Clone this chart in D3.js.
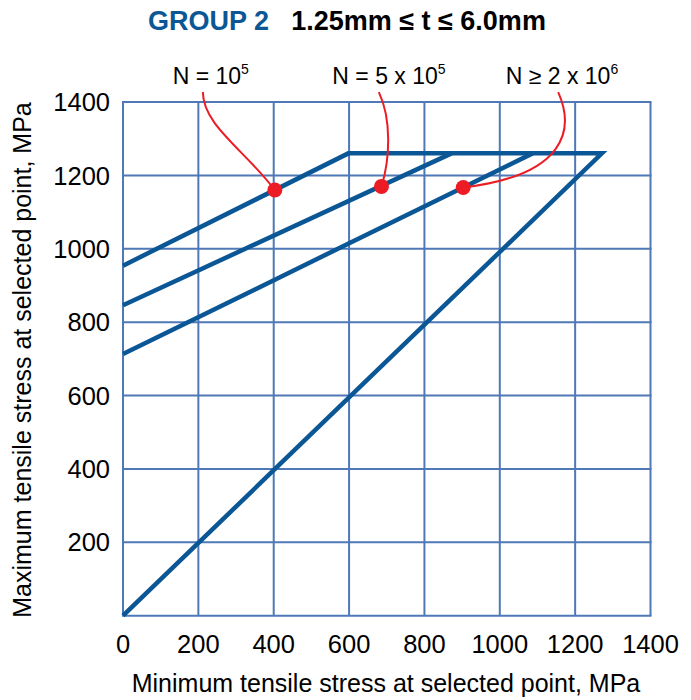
<!DOCTYPE html>
<html>
<head>
<meta charset="utf-8">
<script src="https://cdn.jsdelivr.net/npm/d3@7"></script>
<style>
  body { margin: 0; background: #fff; }
  text { font-family: "Liberation Sans", Arial, sans-serif; }
</style>
</head>
<body>
<div id="wrapper"></div>
<script>
// tick values on both axes
const xTicks = [0, 200, 400, 600, 800, 1000, 1200, 1400];
const yTicks = [200, 400, 600, 800, 1000, 1200, 1400];
const gridValues = [0, 200, 400, 600, 800, 1000, 1200, 1400];

// envelope: N = 10^5 line, flat top, then 45 deg line back to origin
const envelope = [[0, 954], [598, 1260], [1271, 1260], [0, 0]];
// the other two fatigue lines
const line5e5 = [[0, 846], [872, 1260]];
const line2e6 = [[0, 713], [1087, 1260]];

// selected points and the red leader curves (start, ctrl1, ctrl2 in data units)
const labels = ["N = 10", "N = 5 x 10", "N \u2265 2 x 10"];
const labelExp = ["5", "5", "6"];
const labelX = [233, 706, 1165];
const dots = [[403, 1160], [686, 1170], [903, 1167]];
const leaders = [
  [[212, 1427], [212, 1337], [323, 1269]],
  [[679, 1427], [714, 1351], [708, 1242]],
  [[1155, 1427], [1200, 1323], [1173, 1200]]
];

var dimension = {
  width: 691,
  height: 700,
  margin: { top: 102, right: 40, bottom: 84, left: 123 }
};
dimension.boundedWidth = 650.5 - dimension.margin.left;
dimension.boundedHeight = 615.7 - dimension.margin.top;

const blue = "#0b5796";
const gridColor = "#4e78b6";
const red = "#ec1c24";

const svg = d3.select("#wrapper")
  .append("svg")
  .attr("width", dimension.width)
  .attr("height", dimension.height);

const x = d3.scaleLinear().domain([0, 1400]).range([dimension.margin.left, 650.5]);
const y = d3.scaleLinear().domain([0, 1400]).range([615.7, dimension.margin.top]);

// title
const title = svg.append("text")
  .attr("x", 347)
  .attr("y", 30)
  .attr("text-anchor", "middle")
  .style("font-weight", "bold")
  .style("font-size", "27px");
title.append("tspan").attr("fill", blue).text("GROUP 2");
title.append("tspan").attr("fill", "#000").attr("dx", 22).text("1.25mm \u2264 t \u2264 6.0mm");

// grid
const grid = svg.append("g");
grid.selectAll(".vx")
  .data(gridValues)
  .enter()
  .append("line")
  .attr("x1", d => x(d)).attr("x2", d => x(d))
  .attr("y1", y(0)).attr("y2", y(1400))
  .attr("stroke", gridColor).attr("stroke-width", 2);
grid.selectAll(".hy")
  .data(gridValues)
  .enter()
  .append("line")
  .attr("y1", d => y(d)).attr("y2", d => y(d))
  .attr("x1", x(0) - 1).attr("x2", x(1400) + 1)
  .attr("stroke", gridColor).attr("stroke-width", 2);

// tick labels
svg.append("g")
  .selectAll("text")
  .data(xTicks)
  .enter()
  .append("text")
  .attr("x", d => x(d))
  .attr("y", 653)
  .attr("text-anchor", "middle")
  .style("font-size", "25.5px")
  .text(d => d);

svg.append("g")
  .selectAll("text")
  .data(yTicks)
  .enter()
  .append("text")
  .attr("x", 110)
  .attr("y", d => y(d))
  .attr("dy", "0.36em")
  .attr("text-anchor", "end")
  .style("font-size", "25.5px")
  .text(d => d);

// axis titles
svg.append("text")
  .attr("x", 386)
  .attr("y", 692)
  .attr("text-anchor", "middle")
  .style("font-size", "25px")
  .text("Minimum tensile stress at selected point, MPa");

svg.append("text")
  .attr("transform", "translate(31, 360) rotate(-90)")
  .attr("text-anchor", "middle")
  .style("font-size", "25px")
  .text("Maximum tensile stress at selected point, MPa");

// fatigue lines
const lineGen = d3.line().x(d => x(d[0])).y(d => y(d[1]));
svg.append("g")
  .selectAll("path")
  .data([envelope, line5e5, line2e6])
  .enter()
  .append("path")
  .attr("d", lineGen)
  .attr("fill", "none")
  .attr("stroke", blue)
  .attr("stroke-width", 4.5)
  .attr("stroke-linejoin", "miter");

// leader curves
svg.append("g")
  .selectAll("path")
  .data(leaders)
  .enter()
  .append("path")
  .attr("d", (d, i) => {
    const p = d3.path();
    p.moveTo(x(d[0][0]), y(d[0][1]));
    p.bezierCurveTo(x(d[1][0]), y(d[1][1]), x(d[2][0]), y(d[2][1]), x(dots[i][0]), y(dots[i][1]));
    return p.toString();
  })
  .attr("fill", "none")
  .attr("stroke", red)
  .attr("stroke-width", 2);

svg.append("g")
  .selectAll("circle")
  .data(dots)
  .enter()
  .append("circle")
  .attr("cx", d => x(d[0]))
  .attr("cy", d => y(d[1]))
  .attr("r", 7.5)
  .attr("fill", red);

// labels
const lab = svg.append("g")
  .selectAll("text")
  .data(labels)
  .enter()
  .append("text")
  .attr("x", (d, i) => x(labelX[i]))
  .attr("y", 84)
  .attr("text-anchor", "middle")
  .style("font-size", "23px");
lab.append("tspan").text(d => d);
lab.append("tspan")
  .attr("dy", -10)
  .style("font-size", "14px")
  .text((d, i) => labelExp[i]);
</script>
</body>
</html>
